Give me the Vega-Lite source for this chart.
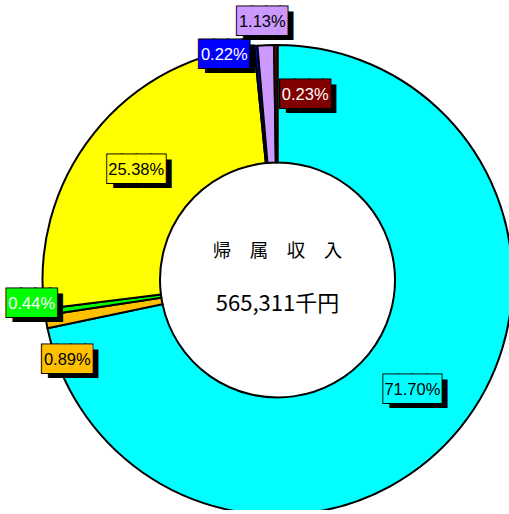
{
  "$schema": "https://vega.github.io/schema/vega-lite/v6.json",
  "width": 463,
  "height": 460,
  "padding": {"left": 46, "top": 50, "right": 0, "bottom": 0},
  "autosize": {"type": "none"},
  "background": "#ffffff",
  "config": {"view": {"stroke": null}, "legend": {"disable": true}},
  "layer": [
    {
      "data": {
        "values": [
          {"item": "A", "share": 0.7170},
          {"item": "B", "share": 0.0089},
          {"item": "C", "share": 0.0044},
          {"item": "D", "share": 0.2538},
          {"item": "E", "share": 0.0022},
          {"item": "F", "share": 0.0113},
          {"item": "G", "share": 0.0023}
        ]
      },
      "transform": [{"stack": "share", "groupby": [], "as": ["s0", "s1"]}],
      "layer": [
        {
          "mark": {"type": "arc", "outerRadius": 235, "innerRadius": 117.5, "stroke": "#000000", "strokeWidth": 2},
          "encoding": {
            "theta": {"field": "s0", "type": "quantitative", "scale": {"domain": [0, 0.9999]}},
            "theta2": {"field": "s1"},
            "color": {
              "field": "item", "type": "nominal",
              "scale": {
                "domain": ["A", "B", "C", "D", "E", "F", "G"],
                "range": ["#00FFFF", "#FFC000", "#00FF00", "#FFFF00", "#0000FF", "#CC99FF", "#800000"]
              }
            }
          }
        },
        {
          "transform": [
            {"fold": ["s0", "s1"], "as": ["edge", "angle"]},
            {"aggregate": [{"op": "mean", "field": "angle", "as": "mid"}], "groupby": ["item", "share"]}
          ],
          "encoding": {
            "theta": {"field": "mid", "type": "quantitative", "scale": {"domain": [0, 0.9999]}}
          },
          "layer": [
            {
              "transform": [{"filter": "datum.item === 'A'"}],
              "layer": [
                {"mark": {"type": "text", "text": "████", "font": "DejaVu Sans Mono", "fontSize": 24, "align": "center", "baseline": "middle", "radius": 174, "thetaOffset": 0.002, "color": "#000000", "dx": 6, "dy": 5}},
                {"mark": {"type": "text", "text": "████", "font": "DejaVu Sans Mono", "fontSize": 24, "align": "center", "baseline": "middle", "radius": 174, "thetaOffset": 0.002, "stroke": "#000000", "strokeWidth": 2}, "encoding": {"color": {"field": "item", "type": "nominal"}}},
                {"mark": {"type": "text", "text": "████", "font": "DejaVu Sans Mono", "fontSize": 24, "align": "center", "baseline": "middle", "radius": 174, "thetaOffset": 0.002}, "encoding": {"color": {"field": "item", "type": "nominal"}}},
                {"mark": {"type": "text", "font": "Liberation Sans", "fontSize": 16.5, "align": "center", "baseline": "middle", "radius": 174, "thetaOffset": 0.002, "color": "#000000"}, "encoding": {"text": {"field": "share", "type": "quantitative", "format": ".2%"}}}
              ]
            },
            {
              "transform": [{"filter": "datum.item === 'B'"}],
              "layer": [
                {"mark": {"type": "text", "text": "███▌", "font": "DejaVu Sans Mono", "fontSize": 24, "align": "center", "baseline": "middle", "radius": 225, "thetaOffset": -0.186, "color": "#000000", "dx": 9.6, "dy": 5}},
                {"mark": {"type": "text", "text": "███▌", "font": "DejaVu Sans Mono", "fontSize": 24, "align": "center", "baseline": "middle", "radius": 225, "thetaOffset": -0.186, "dx": 3.6, "stroke": "#000000", "strokeWidth": 2}, "encoding": {"color": {"field": "item", "type": "nominal"}}},
                {"mark": {"type": "text", "text": "███▌", "font": "DejaVu Sans Mono", "fontSize": 24, "align": "center", "baseline": "middle", "radius": 225, "thetaOffset": -0.186, "dx": 3.6}, "encoding": {"color": {"field": "item", "type": "nominal"}}},
                {"mark": {"type": "text", "font": "Liberation Sans", "fontSize": 16.5, "align": "center", "baseline": "middle", "radius": 225, "thetaOffset": -0.186, "color": "#000000"}, "encoding": {"text": {"field": "share", "type": "quantitative", "format": ".2%"}}}
              ]
            },
            {
              "transform": [{"filter": "datum.item === 'C'"}],
              "layer": [
                {"mark": {"type": "text", "text": "███▌", "font": "DejaVu Sans Mono", "fontSize": 24, "align": "center", "baseline": "middle", "radius": 247, "thetaOffset": 0.038, "color": "#000000", "dx": 9.6, "dy": 5}},
                {"mark": {"type": "text", "text": "███▌", "font": "DejaVu Sans Mono", "fontSize": 24, "align": "center", "baseline": "middle", "radius": 247, "thetaOffset": 0.038, "dx": 3.6, "stroke": "#000000", "strokeWidth": 2}, "encoding": {"color": {"field": "item", "type": "nominal"}}},
                {"mark": {"type": "text", "text": "███▌", "font": "DejaVu Sans Mono", "fontSize": 24, "align": "center", "baseline": "middle", "radius": 247, "thetaOffset": 0.038, "dx": 3.6}, "encoding": {"color": {"field": "item", "type": "nominal"}}},
                {"mark": {"type": "text", "font": "Liberation Sans", "fontSize": 16.5, "align": "center", "baseline": "middle", "radius": 247, "thetaOffset": 0.038, "color": "#FFFFFF"}, "encoding": {"text": {"field": "share", "type": "quantitative", "format": ".2%"}}}
              ]
            },
            {
              "transform": [{"filter": "datum.item === 'D'"}],
              "layer": [
                {"mark": {"type": "text", "text": "████", "font": "DejaVu Sans Mono", "fontSize": 24, "align": "center", "baseline": "middle", "radius": 179, "thetaOffset": -0.013, "color": "#000000", "dx": 6, "dy": 5}},
                {"mark": {"type": "text", "text": "████", "font": "DejaVu Sans Mono", "fontSize": 24, "align": "center", "baseline": "middle", "radius": 179, "thetaOffset": -0.013, "stroke": "#000000", "strokeWidth": 2}, "encoding": {"color": {"field": "item", "type": "nominal"}}},
                {"mark": {"type": "text", "text": "████", "font": "DejaVu Sans Mono", "fontSize": 24, "align": "center", "baseline": "middle", "radius": 179, "thetaOffset": -0.013}, "encoding": {"color": {"field": "item", "type": "nominal"}}},
                {"mark": {"type": "text", "font": "Liberation Sans", "fontSize": 16.5, "align": "center", "baseline": "middle", "radius": 179, "thetaOffset": -0.013, "color": "#000000"}, "encoding": {"text": {"field": "share", "type": "quantitative", "format": ".2%"}}}
              ]
            },
            {
              "transform": [{"filter": "datum.item === 'E'"}],
              "layer": [
                {"mark": {"type": "text", "text": "███▌", "font": "DejaVu Sans Mono", "fontSize": 24, "align": "center", "baseline": "middle", "radius": 231, "thetaOffset": -0.140, "color": "#000000", "dx": 9.6, "dy": 5}},
                {"mark": {"type": "text", "text": "███▌", "font": "DejaVu Sans Mono", "fontSize": 24, "align": "center", "baseline": "middle", "radius": 231, "thetaOffset": -0.140, "dx": 3.6, "stroke": "#000000", "strokeWidth": 2}, "encoding": {"color": {"field": "item", "type": "nominal"}}},
                {"mark": {"type": "text", "text": "███▌", "font": "DejaVu Sans Mono", "fontSize": 24, "align": "center", "baseline": "middle", "radius": 231, "thetaOffset": -0.140, "dx": 3.6}, "encoding": {"color": {"field": "item", "type": "nominal"}}},
                {"mark": {"type": "text", "font": "Liberation Sans", "fontSize": 16.5, "align": "center", "baseline": "middle", "radius": 231, "thetaOffset": -0.140, "color": "#FFFFFF"}, "encoding": {"text": {"field": "share", "type": "quantitative", "format": ".2%"}}}
              ]
            },
            {
              "transform": [{"filter": "datum.item === 'F'"}],
              "layer": [
                {"mark": {"type": "text", "text": "███▌", "font": "DejaVu Sans Mono", "fontSize": 24, "align": "center", "baseline": "middle", "radius": 258, "thetaOffset": -0.009, "color": "#000000", "dx": 9.6, "dy": 5}},
                {"mark": {"type": "text", "text": "███▌", "font": "DejaVu Sans Mono", "fontSize": 24, "align": "center", "baseline": "middle", "radius": 258, "thetaOffset": -0.009, "dx": 3.6, "stroke": "#000000", "strokeWidth": 2}, "encoding": {"color": {"field": "item", "type": "nominal"}}},
                {"mark": {"type": "text", "text": "███▌", "font": "DejaVu Sans Mono", "fontSize": 24, "align": "center", "baseline": "middle", "radius": 258, "thetaOffset": -0.009, "dx": 3.6}, "encoding": {"color": {"field": "item", "type": "nominal"}}},
                {"mark": {"type": "text", "font": "Liberation Sans", "fontSize": 16.5, "align": "center", "baseline": "middle", "radius": 258, "thetaOffset": -0.009, "color": "#000000"}, "encoding": {"text": {"field": "share", "type": "quantitative", "format": ".2%"}}}
              ]
            },
            {
              "transform": [{"filter": "datum.item === 'G'"}],
              "layer": [
                {"mark": {"type": "text", "text": "███▌", "font": "DejaVu Sans Mono", "fontSize": 24, "align": "center", "baseline": "middle", "radius": 187, "thetaOffset": 0.156, "color": "#000000", "dx": 9.6, "dy": 5}},
                {"mark": {"type": "text", "text": "███▌", "font": "DejaVu Sans Mono", "fontSize": 24, "align": "center", "baseline": "middle", "radius": 187, "thetaOffset": 0.156, "dx": 3.6, "stroke": "#000000", "strokeWidth": 2}, "encoding": {"color": {"field": "item", "type": "nominal"}}},
                {"mark": {"type": "text", "text": "███▌", "font": "DejaVu Sans Mono", "fontSize": 24, "align": "center", "baseline": "middle", "radius": 187, "thetaOffset": 0.156, "dx": 3.6}, "encoding": {"color": {"field": "item", "type": "nominal"}}},
                {"mark": {"type": "text", "font": "Liberation Sans", "fontSize": 16.5, "align": "center", "baseline": "middle", "radius": 187, "thetaOffset": 0.156, "color": "#FFFFFF"}, "encoding": {"text": {"field": "share", "type": "quantitative", "format": ".2%"}}}
              ]
            }
          ]
        }
      ]
    },
    {
      "data": {"values": [{"title": "帰　属　収　入", "total": "565,311千円"}]},
      "layer": [
        {"mark": {"type": "text", "font": "Noto Sans CJK JP", "fontSize": 18.5, "align": "center", "baseline": "middle", "dy": -29, "color": "#000000"}, "encoding": {"text": {"field": "title", "type": "nominal"}}},
        {"mark": {"type": "text", "font": "Noto Sans CJK JP", "fontSize": 22, "align": "center", "baseline": "middle", "dy": 24, "color": "#000000"}, "encoding": {"text": {"field": "total", "type": "nominal"}}}
      ]
    }
  ]
}
